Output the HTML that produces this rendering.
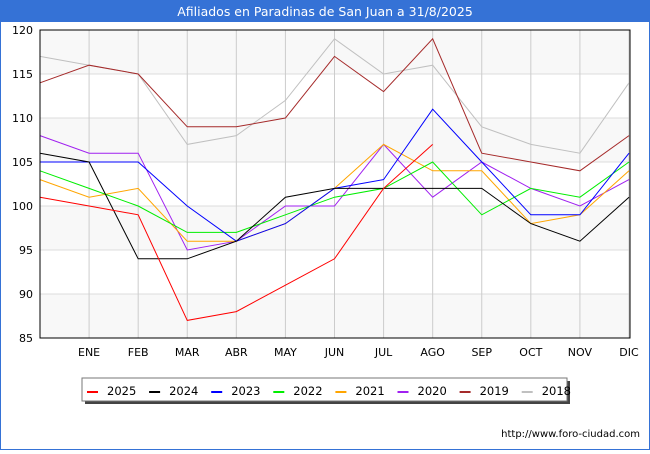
<!DOCTYPE html>
<html><head><meta charset="utf-8"><style>
body{margin:0;width:650px;height:450px;overflow:hidden;background:#fff;font-family:"DejaVu Sans","Liberation Sans",sans-serif}
</style></head><body>
<svg width="650" height="450" xmlns="http://www.w3.org/2000/svg">
<rect x="0.5" y="0.5" width="649" height="449" fill="#fff" stroke="#3572d6"/>
<rect x="0" y="0" width="650" height="22" fill="#3572d6"/>
<text x="325" y="16" text-anchor="middle" fill="#fff" font-size="12.5">Afiliados en Paradinas de San Juan a 31/8/2025</text>
<g id="bands"></g><g id="grid"></g><g id="series"></g>
<rect x="40" y="30" width="590" height="308" fill="none" stroke="#000"/>
<g id="axes" font-size="11" fill="#000"></g>
<rect x="85" y="381" width="485" height="23" fill="#444"/>
<rect x="82" y="378" width="485" height="23" fill="#fff" stroke="#777"/>
<g id="legend" font-size="11.5"></g>
<text x="640" y="437" text-anchor="end" font-size="10" fill="#000">http://www.foro-ciudad.com</text>
</svg>
<script>
const months=["","ENE","FEB","MAR","ABR","MAY","JUN","JUL","AGO","SEP","OCT","NOV","DIC"];
const yTicks=[85,90,95,100,105,110,115,120];
const years=["2025","2024","2023","2022","2021","2020","2019","2018"];
const colors=["#ff0000","#000000","#0000ff","#00ee00","#ffa500","#a020f0","#a52a2a","#c0c0c0"];
const s2025=[101,100,99,87,88,91,94,102,107];
const s2024=[106,105,94,94,96,101,102,102,102,102,98,96,101];
const s2023=[105,105,105,100,96,98,102,103,111,105,99,99,106];
const s2022=[104,102,100,97,97,99,101,102,105,99,102,101,105];
const s2021=[103,101,102,96,96,98,102,107,104,104,98,99,104];
const s2020=[108,106,106,95,96,100,100,107,101,105,102,100,103];
const s2019=[114,116,115,109,109,110,117,113,119,106,105,104,108];
const s2018=[117,116,115,107,108,112,119,115,116,109,107,106,114];
const series=[s2025,s2024,s2023,s2022,s2021,s2020,s2019,s2018];
const NS="http://www.w3.org/2000/svg";
const X=i=>40+i*(589/12), Y=v=>30+(120-v)*308/35;
function mk(t,a,p){const e=document.createElementNS(NS,t);for(const k in a)e.setAttribute(k,a[k]);p.appendChild(e);return e;}
const bands=document.getElementById('bands'),grid=document.getElementById('grid'),ser=document.getElementById('series'),axes=document.getElementById('axes'),leg=document.getElementById('legend');
for(let i=0;i<yTicks.length-1;i++){const hi=yTicks[i+1];if((120-hi)%10===0){const r=mk('rect',{x:40,y:Y(hi),width:590,height:Y(yTicks[i])-Y(hi),fill:'#f8f8f8'},bands);

}}
yTicks.forEach(v=>{const l=mk('line',{x1:40,x2:630,y1:Y(v),y2:Y(v),stroke:'#ddd'},grid);


const t=mk('text',{x:33,y:Y(v)+4,'text-anchor':'end'},axes);t.textContent=v;

});
months.forEach((m,i)=>{if(!m)return;const l=mk('line',{x1:X(i),x2:X(i),y1:30,y2:338,stroke:'#ccc'},grid);


const t=mk('text',{x:X(i),y:356,'text-anchor':'middle'},axes);t.textContent=m;

});
for(let k=series.length-1;k>=0;k--){const p=mk('polyline',{points:series[k].map((v,i)=>X(i)+','+Y(v)).join(' '),fill:'none',stroke:colors[k],'stroke-width':1},ser);

}
years.forEach((y,k)=>{const x0=87+k*62.1;const r=mk('rect',{x:x0,y:391,width:11,height:2,fill:colors[k]},leg);


const t=mk('text',{x:x0+20,y:395},leg);t.textContent=y;

});
</script>
</body></html>
